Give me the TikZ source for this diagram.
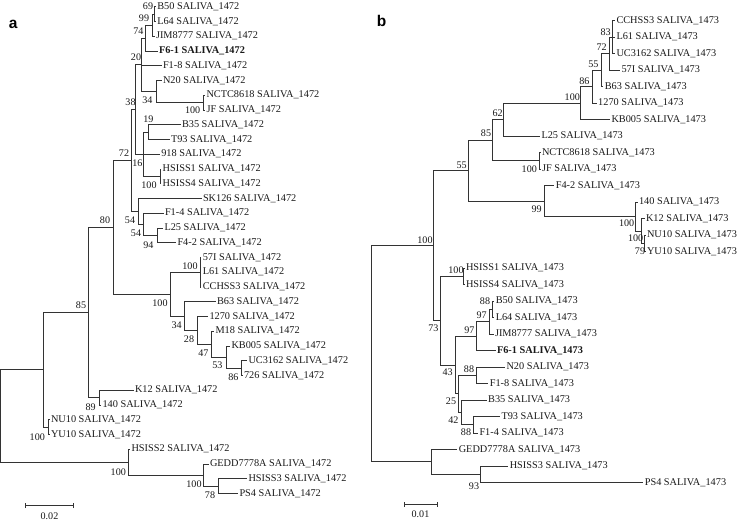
\documentclass[tikz,border=0pt]{standalone}
\usepackage{fontspec}
\setmainfont{Liberation Serif}
\newfontfamily\panelfont{Liberation Sans}
\begin{document}
\begin{tikzpicture}[x=1pt,y=-1pt,
  br/.style={draw=black!80,line width=0.75pt},
  leaf/.style={anchor=west,inner sep=1.3pt,font=\fontsize{10.3}{11}\selectfont,text=black!90},
  bs/.style={inner sep=0pt,font=\fontsize{10.1}{11}\selectfont,text=black!90},
  panel/.style={inner sep=0pt,anchor=base,font=\panelfont\bfseries\fontsize{15.5}{17}\selectfont}]
\useasboundingbox (0,0) rectangle (739,522);
\newcommand\lf[4]{\coordinate (#1) at (#2,#3); \node[leaf] (#1t) at (#1) {#4};}
\newcommand\ed[2]{\draw[br] (#1) |- (#2);}
% ---------- tree a : internal nodes
\coordinate (rootA) at (0.6,415.9);
\coordinate (nA) at (43.3,369.75);
\coordinate (nH) at (128.3,462.1);
\coordinate (nB) at (88.3,312.42);
\coordinate (nNU) at (48.3,427.08);
\coordinate (nC) at (113.7,227.26);
\coordinate (nK) at (99.3,397.58);
\coordinate (n72) at (131,160.42);
\coordinate (nE) at (170,294.1);
\coordinate (n38) at (135.5,109.49);
\coordinate (n54a) at (138.3,211.36);
\coordinate (n20) at (141,64.78);
\coordinate (n16) at (143.5,154.2);
\coordinate (n74) at (145,38.04);
\coordinate (nN20) at (156,91.51);
\coordinate (n99) at (152.3,25.14);
\coordinate (n69) at (154.3,14.08);
\coordinate (nJF) at (203.3,102.58);
\coordinate (n19) at (148.3,132.08);
\coordinate (nHS) at (160,176.33);
\coordinate (n54b) at (143.5,224.26);
\coordinate (n94) at (157.3,235.33);
\coordinate (n57) at (200,272.2);
\coordinate (n34b) at (184.3,315.99);
\coordinate (n28) at (197.3,330.28);
\coordinate (n47) at (211.7,344.1);
\coordinate (n53) at (226,357.01);
\coordinate (n86) at (241.7,368.08);
\coordinate (nG) at (203.3,475.01);
\coordinate (n78) at (218.3,486.08);
% ---------- tree a : leaves
\lf{aB50}{155.8}{6.7}{B50 SALIVA\_1472}
\lf{aL64}{155.8}{21.45}{L64 SALIVA\_1472}
\lf{aJIM}{154.5}{36.2}{JIM8777 SALIVA\_1472}
\lf{aF61}{157.5}{50.95}{\textbf{F6-1 SALIVA\_1472}}
\lf{aF18}{161.5}{65.7}{F1-8 SALIVA\_1472}
\lf{aN20}{161.5}{80.45}{N20 SALIVA\_1472}
\lf{aNCTC}{205}{95.2}{NCTC8618 SALIVA\_1472}
\lf{aJF}{205}{109.95}{JF SALIVA\_1472}
\lf{aB35}{180.5}{124.7}{B35 SALIVA\_1472}
\lf{aT93}{169.5}{139.45}{T93 SALIVA\_1472}
\lf{a918}{159.8}{154.2}{918 SALIVA\_1472}
\lf{aHS1}{161.2}{168.95}{HSISS1 SALIVA\_1472}
\lf{aHS4}{161.2}{183.7}{HSISS4 SALIVA\_1472}
\lf{aSK}{201.5}{198.45}{SK126 SALIVA\_1472}
\lf{aF14}{163.5}{213.2}{F1-4 SALIVA\_1472}
\lf{aL25}{163}{227.95}{L25 SALIVA\_1472}
\lf{aF42}{176}{242.7}{F4-2 SALIVA\_1472}
\lf{a57I}{201.3}{257.45}{57I SALIVA\_1472}
\lf{aL61}{201.3}{272.2}{L61 SALIVA\_1472}
\lf{aCC}{201.3}{286.95}{CCHSS3 SALIVA\_1472}
\lf{aB63}{215.5}{301.7}{B63 SALIVA\_1472}
\lf{a1270}{208}{316.45}{1270 SALIVA\_1472}
\lf{aM18}{214}{331.2}{M18 SALIVA\_1472}
\lf{aKB}{230}{345.95}{KB005 SALIVA\_1472}
\lf{aUC}{247}{360.7}{UC3162 SALIVA\_1472}
\lf{a726}{242.5}{375.45}{726 SALIVA\_1472}
\lf{aK12}{133.5}{390.2}{K12 SALIVA\_1472}
\lf{a140}{101}{404.95}{140 SALIVA\_1472}
\lf{aNU10}{49.5}{419.7}{NU10 SALIVA\_1472}
\lf{aYU10}{49.5}{434.45}{YU10 SALIVA\_1472}
\lf{aHS2}{130}{449.2}{HSISS2 SALIVA\_1472}
\lf{aGEDD}{208.5}{463.95}{GEDD7778A SALIVA\_1472}
\lf{aHS3}{247}{478.7}{HSISS3 SALIVA\_1472}
\lf{aPS4}{238}{493.45}{PS4 SALIVA\_1472}
% ---------- tree a : branches
\ed{rootA}{nA}\ed{rootA}{nH}
\ed{nA}{nB}\ed{nA}{nNU}
\ed{nNU}{aNU10}\ed{nNU}{aYU10}
\ed{nB}{nC}\ed{nB}{nK}
\ed{nK}{aK12}\ed{nK}{a140}
\ed{nC}{n72}\ed{nC}{nE}
\ed{n72}{n38}\ed{n72}{n54a}
\ed{n38}{n20}\ed{n38}{n16}
\ed{n20}{n74}\ed{n20}{aF18}\ed{n20}{nN20}
\ed{n74}{n99}\ed{n74}{aF61}
\ed{n99}{n69}\ed{n99}{aJIM}
\ed{n69}{aB50}\ed{n69}{aL64}
\ed{nN20}{aN20}\ed{nN20}{nJF}
\ed{nJF}{aNCTC}\ed{nJF}{aJF}
\ed{n16}{n19}\ed{n16}{a918}\ed{n16}{nHS}
\ed{n19}{aB35}\ed{n19}{aT93}
\ed{nHS}{aHS1}\ed{nHS}{aHS4}
\ed{n54a}{aSK}\ed{n54a}{n54b}
\ed{n54b}{aF14}\ed{n54b}{n94}
\ed{n94}{aL25}\ed{n94}{aF42}
\ed{nE}{n57}\ed{nE}{n34b}
\ed{n57}{a57I}\ed{n57}{aL61}\ed{n57}{aCC}
\ed{n34b}{aB63}\ed{n34b}{n28}
\ed{n28}{a1270}\ed{n28}{n47}
\ed{n47}{aM18}\ed{n47}{n53}
\ed{n53}{aKB}\ed{n53}{n86}
\ed{n86}{aUC}\ed{n86}{a726}
\ed{nH}{aHS2}\ed{nH}{nG}
\ed{nG}{aGEDD}\ed{nG}{n78}
\ed{n78}{aHS3}\ed{n78}{aPS4}
% ---------- tree a : bootstrap values
\node[bs] (ba1) at (148,6.7) {69};
\node[bs] (ba2) at (144,18.3) {99};
\node[bs] (ba3) at (138.3,30.7) {74};
\node[bs] (ba4) at (136,57.3) {20};
\node[bs] (ba5) at (130.5,101.7) {38};
\node[bs] (ba6) at (147.3,100) {34};
\node[bs] (ba7) at (192.7,110) {100};
\node[bs] (ba8) at (148.3,119.3) {19};
\node[bs] (ba9) at (124,153.3) {72};
\node[bs] (ba10) at (137.3,163.3) {16};
\node[bs] (ba11) at (149,185) {100};
\node[bs] (ba12) at (130,220.7) {54};
\node[bs] (ba13) at (136,233.3) {54};
\node[bs] (ba14) at (148.3,245) {94};
\node[bs] (ba15) at (105,220) {80};
\node[bs] (ba16) at (190,265.7) {100};
\node[bs] (ba17) at (160,303.3) {100};
\node[bs] (ba18) at (176.7,325) {34};
\node[bs] (ba19) at (189,339.3) {28};
\node[bs] (ba20) at (203.3,353.3) {47};
\node[bs] (ba21) at (217.3,365.7) {53};
\node[bs] (ba22) at (233.3,377.3) {86};
\node[bs] (ba23) at (81,305) {85};
\node[bs] (ba24) at (90.7,407.3) {89};
\node[bs] (ba25) at (37.3,436.7) {100};
\node[bs] (ba26) at (118.3,471.7) {100};
\node[bs] (ba27) at (194,484) {100};
\node[bs] (ba28) at (210,495) {78};
% ---------- tree a : scale bar and panel letter
\coordinate (sa1) at (25.7,505.7);
\coordinate (sa2) at (73.3,505.7);
\draw[br] (sa1) -- (sa2);
\draw[br] ([yshift=-2.5pt]sa1) -- ([yshift=2.5pt]sa1);
\draw[br] ([yshift=-2.5pt]sa2) -- ([yshift=2.5pt]sa2);
\node[bs] (sat) at (49.5,516.7) {0.02};
\node[panel] (pa) at (13.3,28) {a};
% ---------- tree b : internal nodes
\coordinate (rootB) at (371,353.73);
\coordinate (mR100) at (433.3,245.64);
\coordinate (mG) at (431.7,461.81);
\coordinate (m55b) at (468.3,170.66);
\coordinate (m73) at (440,320.62);
\coordinate (m85) at (492.7,140.26);
\coordinate (m99) at (544,201.06);
\coordinate (m62) at (503.3,119.64);
\coordinate (mJF) at (539.3,160.87);
\coordinate (m100a) at (580,103.15);
\coordinate (m86) at (592.3,86.66);
\coordinate (m55a) at (601,70.17);
\coordinate (m72) at (609.3,53.68);
\coordinate (m83) at (612.7,37.19);
\coordinate (m100c) at (635,216.52);
\coordinate (m100e) at (641,230.95);
\coordinate (m79) at (644,243.32);
\coordinate (mHS) at (463.3,276.3);
\coordinate (m43) at (455,364.94);
\coordinate (m97b) at (476,336.08);
\coordinate (m97a) at (489.3,321.65);
\coordinate (m88a) at (492.7,309.28);
\coordinate (m25) at (458.3,393.79);
\coordinate (m88b) at (476,375.24);
\coordinate (m42) at (461.7,412.34);
\coordinate (m88c) at (473.3,424.71);
\coordinate (m93) at (480,474.18);
% ---------- tree b : leaves
\lf{bCC}{615}{20.7}{CCHSS3 SALIVA\_1473}
\lf{bL61}{615}{37.19}{L61 SALIVA\_1473}
\lf{bUC}{615}{53.68}{UC3162 SALIVA\_1473}
\lf{b57I}{620}{70.17}{57I SALIVA\_1473}
\lf{bB63}{603.3}{86.66}{B63 SALIVA\_1473}
\lf{b1270}{596.7}{103.15}{1270 SALIVA\_1473}
\lf{bKB}{610}{119.64}{KB005 SALIVA\_1473}
\lf{bL25}{540}{136.13}{L25 SALIVA\_1473}
\lf{bNCTC}{540.5}{152.62}{NCTC8618 SALIVA\_1473}
\lf{bJF}{540.5}{169.11}{JF SALIVA\_1473}
\lf{bF42}{554.3}{185.6}{F4-2 SALIVA\_1473}
\lf{b140}{637.5}{202.09}{140 SALIVA\_1473}
\lf{bK12}{644.5}{218.58}{K12 SALIVA\_1473}
\lf{bNU10}{645.5}{235.07}{NU10 SALIVA\_1473}
\lf{bYU10}{645.5}{251.56}{YU10 SALIVA\_1473}
\lf{bHS1}{464.5}{268.05}{HSISS1 SALIVA\_1473}
\lf{bHS4}{464.5}{284.54}{HSISS4 SALIVA\_1473}
\lf{bB50}{494.3}{301.03}{B50 SALIVA\_1473}
\lf{bL64}{494.3}{317.52}{L64 SALIVA\_1473}
\lf{bJIM}{493.5}{334.01}{JIM8777 SALIVA\_1473}
\lf{bF61}{495.5}{350.5}{\textbf{F6-1 SALIVA\_1473}}
\lf{bN20}{505}{366.99}{N20 SALIVA\_1473}
\lf{bF18}{488.3}{383.48}{F1-8 SALIVA\_1473}
\lf{bB35}{486.7}{399.97}{B35 SALIVA\_1473}
\lf{bT93}{500}{416.46}{T93 SALIVA\_1473}
\lf{bF14}{478}{432.95}{F1-4 SALIVA\_1473}
\lf{bGEDD}{457.3}{449.44}{GEDD7778A SALIVA\_1473}
\lf{bHS3}{508.3}{465.93}{HSISS3 SALIVA\_1473}
\lf{bPS4}{643.3}{482.42}{PS4 SALIVA\_1473}
% ---------- tree b : branches
\ed{rootB}{mR100}\ed{rootB}{mG}
\ed{mR100}{m55b}\ed{mR100}{m73}
\ed{m55b}{m85}\ed{m55b}{m99}
\ed{m85}{m62}\ed{m85}{mJF}
\ed{m62}{m100a}\ed{m62}{bL25}
\ed{m100a}{m86}\ed{m100a}{bKB}
\ed{m86}{m55a}\ed{m86}{b1270}
\ed{m55a}{m72}\ed{m55a}{bB63}
\ed{m72}{m83}\ed{m72}{b57I}
\ed{m83}{bCC}\ed{m83}{bL61}\ed{m83}{bUC}
\ed{mJF}{bNCTC}\ed{mJF}{bJF}
\ed{m99}{bF42}\ed{m99}{m100c}
\ed{m100c}{b140}\ed{m100c}{m100e}
\ed{m100e}{bK12}\ed{m100e}{m79}
\ed{m79}{bNU10}\ed{m79}{bYU10}
\ed{m73}{mHS}\ed{m73}{m43}
\ed{mHS}{bHS1}\ed{mHS}{bHS4}
\ed{m43}{m97b}\ed{m43}{m25}
\ed{m97b}{m97a}\ed{m97b}{bF61}
\ed{m97a}{m88a}\ed{m97a}{bJIM}
\ed{m88a}{bB50}\ed{m88a}{bL64}
\ed{m25}{m88b}\ed{m25}{m42}
\ed{m88b}{bN20}\ed{m88b}{bF18}
\ed{m42}{bB35}\ed{m42}{m88c}
\ed{m88c}{bT93}\ed{m88c}{bF14}
\ed{mG}{bGEDD}\ed{mG}{m93}
\ed{m93}{bHS3}\ed{m93}{bPS4}
% ---------- tree b : bootstrap values
\node[bs] (bb1) at (605.7,31.7) {83};
\node[bs] (bb2) at (601.7,47.3) {72};
\node[bs] (bb3) at (593.3,64) {55};
\node[bs] (bb4) at (584.3,80.7) {86};
\node[bs] (bb5) at (572.3,96.7) {100};
\node[bs] (bb6) at (497.7,113.3) {62};
\node[bs] (bb7) at (486,133.3) {85};
\node[bs] (bb8) at (529.3,169) {100};
\node[bs] (bb9) at (461.7,165) {55};
\node[bs] (bb10) at (536.7,209) {99};
\node[bs] (bb11) at (626.7,223.3) {100};
\node[bs] (bb12) at (635.7,238.3) {100};
\node[bs] (bb13) at (640,251) {79};
\node[bs] (bb14) at (425,240) {100};
\node[bs] (bb15) at (456,270) {100};
\node[bs] (bb16) at (485,300.7) {88};
\node[bs] (bb17) at (481.7,315.7) {97};
\node[bs] (bb18) at (469.3,330) {97};
\node[bs] (bb19) at (433.3,328.3) {73};
\node[bs] (bb20) at (447.7,372.7) {43};
\node[bs] (bb21) at (469,369.3) {88};
\node[bs] (bb22) at (451,401.7) {25};
\node[bs] (bb23) at (453.3,420) {42};
\node[bs] (bb24) at (466,431.7) {88};
\node[bs] (bb25) at (474,485.7) {93};
% ---------- tree b : scale bar and panel letter
\coordinate (sb1) at (404,504.3);
\coordinate (sb2) at (437.7,504.3);
\draw[br] (sb1) -- (sb2);
\draw[br] ([yshift=-2.5pt]sb1) -- ([yshift=2.5pt]sb1);
\draw[br] ([yshift=-2.5pt]sb2) -- ([yshift=2.5pt]sb2);
\node[bs] (sbt) at (420.5,514.5) {0.01};
\node[panel] (pb) at (381.7,26) {b};
\end{tikzpicture}
\end{document}
